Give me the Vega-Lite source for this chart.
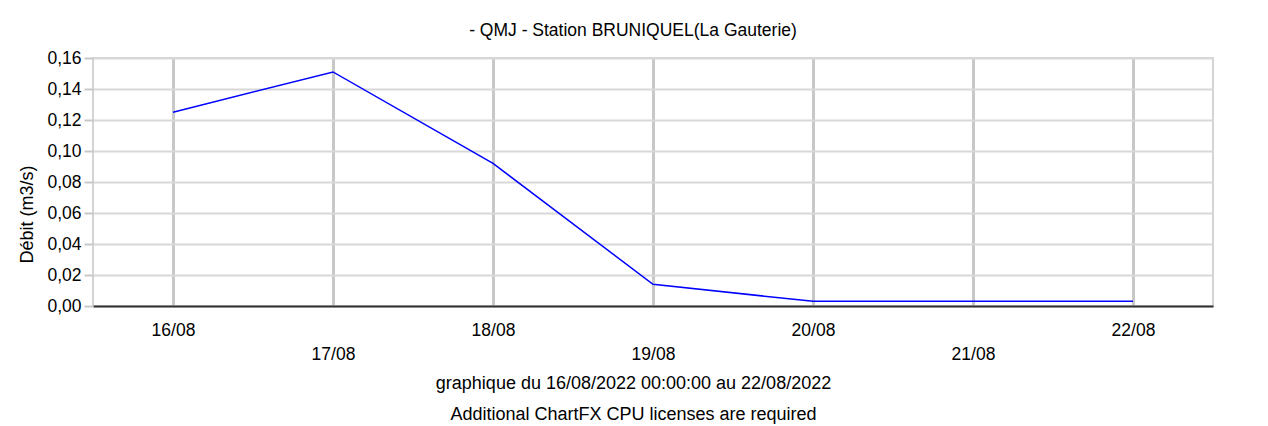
{
  "$schema": "https://vega.github.io/schema/vega-lite/v6.json",
  "width": 1120,
  "height": 248,
  "autosize": {"type": "none"},
  "padding": {"left": 93, "top": 58, "right": 55, "bottom": 120},
  "background": "white",
  "title": {
    "text": "- QMJ - Station BRUNIQUEL(La Gauterie)",
    "anchor": "middle",
    "frame": "group",
    "dx": -20,
    "font": "Liberation Sans",
    "fontSize": 17.5,
    "fontWeight": "normal",
    "color": "#000000",
    "baseline": "alphabetic",
    "offset": -4
  },
  "data": {
    "values": [
      {"jour": "16/08", "debit": 0.125},
      {"jour": "17/08", "debit": 0.151},
      {"jour": "18/08", "debit": 0.092},
      {"jour": "19/08", "debit": 0.014},
      {"jour": "20/08", "debit": 0.003},
      {"jour": "21/08", "debit": 0.003},
      {"jour": "22/08", "debit": 0.003}
    ]
  },
  "mark": {"type": "line", "color": "#0000ff", "strokeWidth": 1.5},
  "encoding": {
    "x": {
      "field": "jour",
      "type": "ordinal",
      "sort": null,
      "scale": {"type": "point", "padding": 0.5},
      "axis": {
        "title": ["graphique du 16/08/2022 00:00:00 au 22/08/2022", "Additional ChartFX CPU licenses are required"],
        "titleX": 540,
        "titleY": 68,
        "titleBaseline": "top",
        "titleLineHeight": 31,
        "titleFontSize": 18,
        "titleFontWeight": "normal",
        "titleColor": "#000000",
        "labelAngle": 0,
        "labelFontSize": 17.5,
        "labelColor": "#000000",
        "labelBaseline": "top",
        "labelPadding": {"condition": {"test": "indexof(['17/08','19/08','21/08'], datum.value) >= 0", "value": 39}, "value": 15},
        "ticks": false,
        "tickSize": 0,
        "domainColor": "#333333",
        "domainWidth": 2,
        "grid": true,
        "gridColor": "#c8c8c8",
        "gridWidth": 3,
        "labelOverlap": false
      }
    },
    "y": {
      "field": "debit",
      "type": "quantitative",
      "scale": {"domain": [0, 0.16], "nice": false},
      "axis": {
        "title": "Débit (m3/s)",
        "values": [0, 0.02, 0.04, 0.06, 0.08, 0.1, 0.12, 0.14, 0.16],
        "labelExpr": "replace(format(datum.value, '.2f'), '.', ',')",
        "labelFontSize": 17.5,
        "labelColor": "#000000",
        "labelPadding": 3,
        "tickSize": 9,
        "tickColor": "#c8c8c8",
        "tickWidth": 2,
        "domain": false,
        "gridColor": "#d8d8d8",
        "gridWidth": 2,
        "titleFontSize": 18,
        "titleFontWeight": "normal",
        "titleColor": "#000000",
        "titleY": 156,
        "titlePadding": 10
      }
    }
  },
  "config": {
    "font": "Liberation Sans",
    "view": {"stroke": "#d4d4d4", "strokeWidth": 2}
  }
}
